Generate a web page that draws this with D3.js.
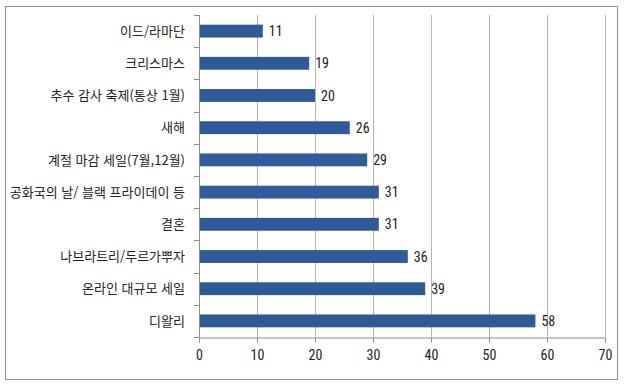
<!DOCTYPE html>
<html lang="ko">
<head>
<meta charset="UTF-8">
<script src="https://d3js.org/d3.v7.min.js"></script>
<style>
  body{margin:0;background:#fff}
  svg{display:block}
  .cat{font-family:"Noto Sans CJK KR",sans-serif;font-size:13px;fill:#222}
  .num{font-family:"Liberation Sans Narrow","Roboto Condensed","Liberation Sans",sans-serif;font-size:14px;fill:#222}
</style>
</head>
<body>
<script>
const categories=["이드/라마단","크리스마스","추수 감사 축제(통상 1월)","새해","계절 마감 세일(7월,12월)",
  "공화국의 날/ 블랙 프라이데이 등","결혼","나브라트리/두르가뿌자","온라인 대규모 세일","디왈리"];
const values=[11,19,20,26,29,31,31,36,39,58];
const xTicks=[0,10,20,30,40,50,60,70];

const W=628,H=386;
const svg=d3.select("body").append("svg").attr("width",W).attr("height",H);

// outer frame
svg.append("rect").attr("x",5.5).attr("y",6.5).attr("width",612).attr("height",373)
   .attr("fill","#fff").attr("stroke","#8c8c8c").attr("stroke-width",1);

const plotTop=15,plotBottom=337;
const x=d3.scaleLinear().domain([0,70]).range([199,605]);
const y=d3.scaleBand().domain(categories).range([plotTop,plotBottom]).paddingInner(0.6).paddingOuter(0.3);
const step=y.step();

// gridlines
svg.append("g").selectAll("line").data(xTicks.slice(1)).join("line")
   .attr("x1",d=>x(d)+.5).attr("x2",d=>x(d)+.5).attr("y1",plotTop).attr("y2",plotBottom)
   .attr("stroke","#b3b3b3").attr("stroke-width",1);

// bars
svg.append("g").selectAll("rect").data(values).join("rect")
   .attr("x",x(0)).attr("y",(d,i)=>y(categories[i]))
   .attr("width",d=>x(d)-x(0)).attr("height",y.bandwidth())
   .attr("fill","#2f5b97");

// value labels
svg.append("g").selectAll("text").data(values).join("text").attr("class","num")
   .attr("x",d=>x(d)+6).attr("y",(d,i)=>y(categories[i])+y.bandwidth()/2)
   .attr("dy","0.36em").text(d=>d);

// left axis line + ticks at band boundaries
const lg=svg.append("g").attr("stroke","#8c8c8c");
lg.append("line").attr("x1",x(0)+.5).attr("x2",x(0)+.5).attr("y1",plotTop).attr("y2",plotBottom);
lg.selectAll("line.t").data(d3.range(categories.length+1)).join("line").attr("class","t")
   .attr("x1",x(0)-5).attr("x2",x(0)).attr("y1",i=>Math.round(plotTop+i*step)+.5).attr("y2",i=>Math.round(plotTop+i*step)+.5);

// category labels
svg.append("g").selectAll("text").data(categories).join("text").attr("class","cat")
   .attr("x",185).attr("y",d=>y(d)+y.bandwidth()/2).attr("dy","0.36em")
   .attr("text-anchor","end").text(d=>d);

// bottom axis
const ax=d3.axisBottom(x).tickValues(xTicks).tickSize(5).tickPadding(8);
const bg=svg.append("g").attr("transform","translate(0,337.5)").call(ax);
bg.select(".domain").attr("stroke","#8c8c8c");
bg.selectAll(".tick line").attr("stroke","#8c8c8c");
bg.selectAll(".tick text").attr("class","num").attr("fill","#222");
</script>
</body>
</html>
